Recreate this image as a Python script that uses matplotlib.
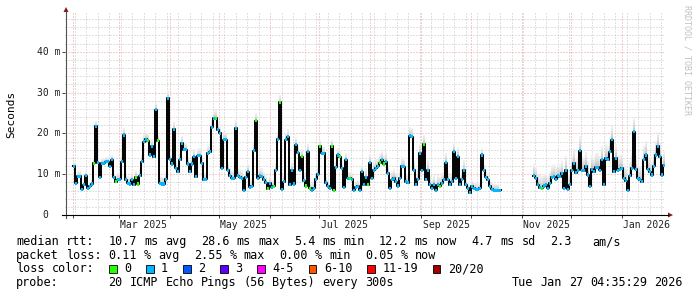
import re
import numpy as np
import pandas as pd
import matplotlib
matplotlib.use('Agg')
import matplotlib.pyplot as plt
import matplotlib.dates as mdates
from matplotlib.patches import Rectangle, Polygon
from matplotlib.lines import Line2D

W, H = 697, 297
MONO = 'DejaVu Sans Mono'
nan = np.nan

# median rtt in ms, one value per 365/300 days starting 2025-01-27 04:35
median_ms = [
    nan, nan, nan, nan, 11.9, 7.8, 9.5, 9.5, 6.3, 7.4, 9.6, 6.5, 7.0, 7.6, 12.7,
    21.8, 12.8, 9.2, 12.7, 12.7, 13.1, 13.1, 12.0, 13.5, 9.2, 8.2, 8.6, 8.8, 13.0, 19.6,
    8.6, 7.8, 7.6, 8.6, 7.4, 9.2, 7.6, 9.6, 13.1, 18.0, 18.6, 18.2, 14.7, 16.8, 14.3,
    25.8, 18.2, 7.8, 7.6, 7.6, 8.7, 28.6, 13.7, 12.5, 21.0, 11.5, 10.6, 13.5, 17.6, 16.0,
    16.0, 12.5, 10.6, 12.5, 14.3, 9.4, 14.5, 14.5, 12.7, 8.6, 8.7, 15.1, 15.5, 21.5, 23.7,
    # may - jun
    23.7, 20.9, 20.0, 11.5, 18.4, 18.4, 11.0, 9.6, 9.0, 9.0, 21.3, 9.6, 9.2, 9.0, 6.1,
    9.2, 10.6, 6.8, 7.0, 15.8, 23.1, 9.0, 9.6, 9.4, 8.6, 7.9, 6.4, 7.8, 6.8, 7.0,
    11.0, 18.6, 27.6, 6.3, 8.2, 18.4, 19.2, 7.4, 11.0, 7.6, 17.2, 15.3, 11.0, 14.3, 8.4,
    7.1, 15.5, 6.5, 6.1, 6.5, 8.75, 10.0, 16.8, 15.1, 15.1, 7.9, 7.0, 6.5, 16.9, 6.1,
    11.7, 14.7, 14.3, 11.5, 6.8, 13.5, 9.0, 9.0, 8.75, 6.1, 6.8, 7.0, 6.1, 10.6, 7.4,
    # aug - oct
    9.2, 7.4, 12.8, 9.0, 11.0, 11.5, 11.9, 12.8, 13.5, 12.5, 13.1, 10.2, 6.5, 8.6, 9.0,
    8.2, 7.1, 9.0, 11.9, 11.8, 8.2, 7.9, 19.4, 19.2, 11.0, 7.4, 8.75, 15.1, 11.0, 17.3,
    8.6, 11.0, 7.4, 6.5, 7.4, 6.1, 7.4, 7.0, 7.8, 8.6, 12.8, 8.6, 7.4, 8.2, 15.5,
    9.0, 14.3, 7.4, 8.75, 11.0, 7.4, 6.5, 5.4, 7.0, 6.5, 6.3, 6.3, 6.5, 14.7, 11.0,
    9.2, 8.6, 7.0, 6.3, 6.1, 6.1, 6.1, 6.1, nan, nan, nan, nan, nan, nan, nan,
    # oct gap - jan
    nan, nan, nan, nan, nan, nan, nan, nan, nan, 9.6, 9.0, 7.4, 6.7, 6.5, 7.1,
    7.4, 6.5, 7.8, 9.2, 9.4, 8.75, 9.6, 9.4, 10.2, 6.5, 11.0, 6.3, 7.4, 11.0, 12.7,
    10.4, 11.0, 15.8, 11.0, 10.8, 11.9, 9.8, 7.0, 11.2, 10.6, 11.7, 11.7, 11.0, 13.5, 7.4,
    13.9, 13.5, 15.5, 18.4, 10.6, 13.9, 11.0, 11.2, 11.5, 9.0, 8.4, 6.1, 9.6, 11.5, 20.4,
    11.2, 9.0, 8.6, 8.2, 13.5, 14.7, 11.2, 10.6, 9.8, 11.9, 14.7, 16.9, 14.3, 9.8, 12.2,
]
# samples where no packet was lost (green), others lost 1 of 20
zero_loss_idx = [14, 25, 35, 36, 41, 46, 75, 95, 101, 104, 107, 118, 120, 122, 127,
                 133, 134, 137, 142, 151, 157, 159, 179, 187, 238]
# height of the smoke above the median, per 25 samples
smoke_up = [1.2, 1.8, 1.8, 2.0, 1.8, 1.6, 2.2, 2.4, 1.6, 3.0, 3.5, 3.5]

month_labels = ['Mar 2025', 'May 2025', 'Jul 2025', 'Sep 2025', 'Nov 2025', 'Jan 2026']
month_starts = ['2025-03-01', '2025-05-01', '2025-07-01', '2025-09-01', '2025-11-01', '2026-01-01']
ytick_vals = [0, 10, 20, 30, 40]
ytick_text = ['0', '10 m', '20 m', '30 m', '40 m']

loss_names = ['0', '1', '2', '3', '4-5', '6-10', '11-19', '20/20']
loss_colors = ['#26ff00', '#00b8ff', '#0059ff', '#5e00ff', '#ff00ff', '#ff5500', '#ff0000', '#a10000']

legend_lines = [
    'median rtt:  10.7 ms avg  28.6 ms max  5.4 ms min  12.2 ms now  4.7 ms sd  2.3   am/s',
    'packet loss: 0.11 % avg  2.55 % max  0.00 % min  0.05 % now',
    'loss color:',
    'probe:       20 ICMP Echo Pings (56 Bytes) every 300s',
]
stamp = 'Tue Jan 27 04:35:29 2026'

t0 = pd.Timestamp('2025-01-27 04:35:29')
t1 = pd.Timestamp('2026-01-27 04:35:29')


def fx(x):
    return x / W


def fy(y):
    return 1 - y / H


fig = plt.figure(figsize=(W / 100, H / 100), dpi=100)
fig.patch.set_facecolor('white')
ax = fig.add_axes([fx(65), fy(215), 600 / W, 202 / H])
ax.set_xlim(mdates.date2num(t0), mdates.date2num(t1))
ax.set_ylim(0, 49.5)
for s in ax.spines.values():
    s.set_visible(False)

# grid
ax.xaxis.set_major_locator(mdates.MonthLocator())
ax.xaxis.set_minor_locator(mdates.WeekdayLocator(byweekday=mdates.SU))
ax.yaxis.set_major_locator(plt.MultipleLocator(10))
ax.yaxis.set_minor_locator(plt.MultipleLocator(2))
ax.set_axisbelow(True)
ax.grid(which='minor', color='#c4c4c4', lw=0.72, ls=(0, (1, 2)))
ax.grid(which='major', color='#eb9c9c', lw=0.72, ls=(0, (1, 2)))
ax.tick_params(which='both', labelbottom=False, labelleft=False)
ax.tick_params(which='major', length=2.5, width=0.7, color='#404040')
ax.tick_params(which='minor', length=0)

# data
med = np.array(median_ms, dtype=float)
n = len(med)
xe = mdates.date2num(pd.date_range(t0, t1, periods=n + 1))
step = xe[1] - xe[0]
med_e = np.append(med, med[-1])
spread = np.repeat(smoke_up, 25)
spread_e = np.append(spread, spread[-1])

# smoke: light gray bands above the median
shades = ['#b8b8b8', '#c8c8c8', '#d5d5d5', '#e0e0e0', '#e9e9e9', '#f1f1f1']
base = med_e - 0.3
for k, c in enumerate(shades):
    lo = base + (spread_e + 0.3) * k / len(shades)
    hi = base + (spread_e + 0.3) * (k + 1) / len(shades)
    ax.fill_between(xe, lo, hi, step='post', color=c, lw=0, zorder=2)

ax.step(xe, med_e, where='post', color='#000000', lw=1.4, zorder=3)

cols = np.array([loss_colors[1]] * n, dtype=object)
cols[zero_loss_idx] = loss_colors[0]
ok = ~np.isnan(med)
ax.bar(xe[:-1][ok], 0.75, width=step, bottom=med[ok] - 0.375, align='edge',
       color=list(cols[ok]), lw=0, zorder=4)

# axis lines and arrows
fig.add_artist(Line2D([fx(66), fx(66)], [fy(218), fy(12)], color='#505050', lw=0.8))
fig.add_artist(Line2D([fx(62), fx(668)], [fy(215), fy(215)], color='#000000', lw=0.8))
arrow_c = '#7f1d1d'
fig.add_artist(Polygon([(fx(63.5), fy(12)), (fx(68.5), fy(12)), (fx(66), fy(7))],
                       closed=True, color=arrow_c, lw=0))
fig.add_artist(Polygon([(fx(668), fy(212.5)), (fx(668), fy(217.5)), (fx(673), fy(215))],
                       closed=True, color=arrow_c, lw=0))

# axis labels
for v, t in zip(ytick_vals, ytick_text):
    ypx = 215 - v * 202 / 49.5
    xr = 60.5 if ' ' in t else 48.5
    fig.text(fx(xr), fy(ypx), t, ha='right', va='center', family=MONO, size=7, color='#202020')

for lab, ms in zip(month_labels, month_starts):
    xc = mdates.date2num(pd.Timestamp(ms) + pd.Timedelta(days=15))
    ax.text(xc, -10 / 202, lab, transform=ax.get_xaxis_transform(), ha='center',
            va='center', family=MONO, size=7, color='#202020')

fig.text(fx(11), fy(114), 'Seconds', rotation=90, ha='center', va='center',
         family=MONO, size=8)
fig.text(fx(686.5), fy(5), 'RRDTOOL / TOBI OETIKER', rotation=270, ha='center', va='top',
         family=MONO, size=6, color='#c0c0c0')

# legend, one word at a time on a fixed character grid
LS = 8.5
CW = 7.12


def put_words(line, x0, ybase):
    for m in re.finditer(r'\S+', line):
        fig.text(fx(x0 + m.start() * CW), fy(ybase), m.group(), ha='left',
                 va='baseline', family=MONO, size=LS)


baselines = [245.3, 258.7, 272.5, 286.2]
for line, yb in zip(legend_lines, baselines):
    put_words(line, 16, yb)
put_words(stamp, 683 - len(stamp) * CW, baselines[3])

bx = 109
for name, c in zip(loss_names, loss_colors):
    fig.add_artist(Rectangle((fx(bx), fy(273.3)), 7.5 / W, 8 / H, facecolor=c,
                             edgecolor='black', lw=0.6))
    fig.text(fx(bx + 15), fy(baselines[2]), name, ha='left', va='baseline',
             family=MONO, size=LS)
    bx = bx + 15 + len(name) * CW + 15

fig.savefig('out.png', dpi=100)
